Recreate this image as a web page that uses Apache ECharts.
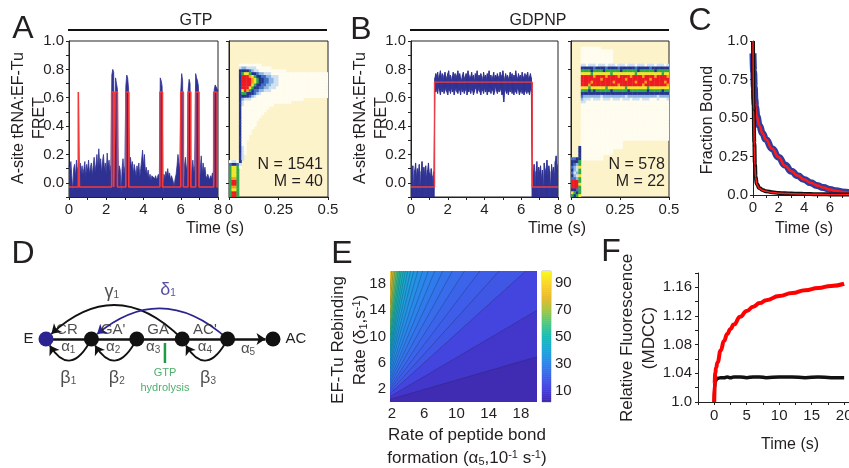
<!DOCTYPE html>
<html><head><meta charset="utf-8">
<script src="https://cdn.jsdelivr.net/npm/echarts@6/dist/echarts.min.js"></script>
<style>html,body{margin:0;padding:0;background:#fff}#c{width:849px;height:468px}</style>
</head><body><div id="c"></div>
<script>
// ================= DATA =================
// Panel A: GTP single-molecule trace (0.05 s frames), upper envelope of FRET
const aStep = 0.05;
const aUpper = [
 0.12,0.08,0.15,0.05,-0.06,0.10,0.13,0.04,0.16,0.09,
 0.11,0.03,0.14,0.07,0.12,0.06,0.10,0.15,0.04,0.13,
 0.08,0.16,0.06,0.11,0.14,0.05,0.12,0.18,0.08,0.13,
 0.20,0.10,0.24,0.12,0.17,0.07,0.15,0.20,0.09,0.14,
 0.06,0.21,0.11,0.16,0.08,0.13,0.76,0.80,0.78,-0.05,
 0.74,0.70,0.66,0.05,0.12,0.09,-0.07,0.10,0.17,0.06,
 0.12,0.68,0.76,0.74,0.66,0.08,0.18,0.11,0.15,0.06,
 0.13,0.09,0.05,0.12,0.08,0.14,0.04,0.10,0.16,0.23,
 0.12,0.20,0.07,0.11,0.05,0.09,0.03,0.06,0.02,0.05,
 0.04,0.06,0.03,0.05,0.02,0.04,0.06,0.03,0.74,0.72,
 0.68,-0.07,0.06,0.03,0.08,0.05,0.10,0.04,0.07,0.02,
 0.05,0.03,0.04,-0.02,0.03,0.06,0.12,0.20,0.19,0.08,
 0.64,0.77,0.72,-0.06,0.12,0.18,0.08,0.14,0.66,0.73,
 0.70,-0.05,0.10,0.16,0.07,0.12,0.77,0.74,0.72,0.68,
 -0.06,0.10,0.19,0.06,0.14,0.08,0.11,0.05,0.03,0.06,
 0.04,0.02,0.05,0.03,0.07,0.04,0.66,0.69,0.68,0.68,
 0.65];
const aFitTimes = [0,0.5,0.56,2.29,2.4,2.47,2.6,3.05,3.21,4.88,5.02,6.0,6.14,6.39,6.54,6.8,6.98,7.77,7.95,8.0];
const aFitLevels = [-0.03,0.64,-0.03,0.64,-0.03,0.64,-0.03,0.64,-0.03,0.64,-0.03,0.64,-0.03,0.64,-0.03,0.64,-0.03,0.64,-0.03];

// Panel B: GDPNP trace (0.05 s frames)
const bStep = 0.05;
const bLowStartUpper = [0.17,0.06,0.12,-0.05,0.09,0.14,0.04,0.10,0.07,0.13,-0.06,0.08,0.15,0.05,0.11,0.06,0.12,0.03,0.09,0.14,0.07,0.04,0.10,0.05,-0.04,0.08];
const bHighUpper = [
 0.74,0.77,0.75,0.78,0.73,0.76,0.79,0.74,0.77,0.72,
 0.76,0.78,0.75,0.73,0.77,0.79,0.74,0.76,0.72,0.75,
 0.78,0.74,0.77,0.73,0.76,0.79,0.75,0.77,0.74,0.72,
 0.76,0.78,0.73,0.75,0.77,0.74,0.79,0.76,0.73,0.75,
 0.78,0.74,0.76,0.72,0.77,0.75,0.79,0.73,0.76,0.74,
 0.77,0.75,0.72,0.78,0.74,0.76,0.73,0.77,0.75,0.79,
 0.74,0.76,0.72,0.75,0.78,0.73,0.76,0.74,0.77,0.75,
 0.73,0.78,0.74,0.76,0.79,0.75,0.72,0.77,0.74,0.76,
 0.73,0.75,0.78,0.74,0.77,0.72,0.76,0.74,0.79,0.75,
 0.73,0.77,0.74,0.76,0.72,0.78,0.75,0.73,0.77,0.74,
 0.76,0.78,0.73,0.75,0.77,0.74];
const bHighLower = [
 0.67,0.64,0.66,0.63,0.68,0.65,0.62,0.66,0.64,0.67,
 0.63,0.65,0.68,0.64,0.62,0.66,0.65,0.63,0.67,0.64,
 0.66,0.62,0.65,0.68,0.64,0.63,0.66,0.65,0.62,0.67,
 0.64,0.66,0.63,0.65,0.68,0.62,0.65,0.64,0.67,0.63,
 0.66,0.65,0.62,0.64,0.67,0.66,0.63,0.65,0.68,0.64,
 0.62,0.66,0.65,0.63,0.67,0.64,0.66,0.62,0.65,0.64,
 0.67,0.63,0.66,0.65,0.62,0.64,0.68,0.65,0.63,0.66,
 0.64,0.67,0.65,0.62,0.63,0.57,0.64,0.66,0.63,0.65,
 0.62,0.66,0.64,0.67,0.63,0.65,0.62,0.66,0.64,0.63,
 0.67,0.65,0.62,0.64,0.66,0.63,0.65,0.62,0.64,0.66,
 0.63,0.65,0.64,0.62,0.66,0.64];
const bLowEndUpper = [0.10,0.05,0.13,-0.06,0.08,0.15,0.04,0.11,0.07,0.12,0.03,0.09,-0.05,0.14,0.06,0.10,0.16,0.05,0.12,0.08,-0.04,0.13,0.07,0.11,0.04,0.15,0.19,0.09,0.13];
const bFitTimes = [0,1.28,6.6,8.0];
const bFitLevels = [-0.03,0.71,-0.03];

// Post-synchronized FRET histograms: [fretRow, startTimeCol, density levels 0-9]
const heatTBin = 0.0125, heatVBin = 0.02, heatVMin = -0.1;
const heatA = [
 [46,4,"111111111"],
 [45,4,"2332222111111"],
 [44,4,"5555432211111111111"],
 [43,4,"567765543322211111111111111111111111"],
 [42,4,"599987655443322211111111111111111111"],
 [41,4,"599998765544332211111111111111111111"],
 [40,4,"599998765544332211111111111111111111"],
 [39,4,"599997655443322211111111111111111111"],
 [38,4,"599976554433222111111111111111111111"],
 [37,4,"579865443322211111111111111111111111"],
 [36,4,"566555432111111111111111111111111111"],
 [35,4,"555543211111111111111111111111111111"],
 [34,4,"53222111111111111111111111"],
 [33,4,"521111111111111111111"],
 [32,4,"52111111111111"],
 [31,4,"511111111111"],
 [30,4,"51111111111"],
 [29,4,"5111111111"],
 [28,4,"511111111"],
 [27,4,"51111111"],
 [26,4,"5111111"],
 [25,4,"5111111"],
 [24,4,"511111"],
 [23,4,"51111"],
 [22,4,"51111"],
 [21,4,"5111"],
 [20,4,"5111"],
 [19,4,"511"],
 [18,4,"511"],
 [17,4,"521"],
 [16,4,"521"],
 [15,4,"521"],
 [14,4,"52"],
 [13,4,"52"],
 [12,0,"12215"],
 [11,0,"45542"],
 [10,0,"67761"],
 [9,0,"6776"],
 [8,0,"6776"],
 [7,0,"6776"],
 [6,0,"6886"],
 [5,0,"6996"],
 [4,0,"6996"],
 [3,0,"6886"],
 [2,0,"6776"],
 [1,0,"6996"],
 [0,0,"6996"]
];
const heatB = [
 [52,4,"11111111"],
 [51,4,"1111111111111"],
 [50,4,"1111111111111"],
 [49,4,"1111111111111"],
 [48,4,"1111111111111"],
 [47,4,"1111111111111"],
 [46,4,"221222122212221222122212221222122212"],
 [45,4,"555554555545555455555545555545555555"],
 [44,4,"666656666566666656666665666666566666"],
 [43,4,"777767777777677777777767777777777677"],
 [42,4,"999998999989999899998999989999899998"],
 [41,4,"999999998999999999899999999989999999"],
 [40,4,"999989999999989999999989998999999989"],
 [39,4,"999899999999999899999999989999999998"],
 [38,4,"777677777767777777677777777677777777"],
 [37,4,"666565666666566666656666666566666566"],
 [36,4,"555555555555555555555555555555555555"],
 [35,4,"433333332333333333233333333333323333"],
 [34,4,"322212221222122212221222122211121112"],
 [33,4,"221111111111111111111111111111111111"],
 [32,4,"111111111111111111111111111111111111"],
 [31,4,"111111111111111111111111111111111111"],
 [30,4,"111111111111111111111111111111111111"],
 [29,4,"111111111111111111111111111111111111"],
 [28,4,"111111111111111111111111111111111111"],
 [27,4,"111111111111111111111111111111111111"],
 [26,4,"111111111111111111111111111111111111"],
 [25,4,"111111111111111111111111111111111111"],
 [24,4,"111111111111111111111111111111111111"],
 [23,4,"111111111111111111111111111111111111"],
 [22,4,"111111111111111111111111111111111111"],
 [21,4,"111111111111111111111111111111111111"],
 [20,4,"111111111111111111111111111111111111"],
 [19,4,"11111111111111111"],
 [18,4,"11111111111111111"],
 [17,4,"11111111111111111"],
 [16,4,"1111111111111"],
 [15,4,"1111111111111"],
 [14,4,"111111111"],
 [13,4,"111111111"],
 [17,3,"5"],[16,3,"5"],[15,3,"5"],[14,3,"5"],
 [13,0,"4455"],
 [12,0,"5556"],
 [11,0,"5436"],
 [10,0,"4327"],
 [9,0,"5326"],
 [8,0,"4236"],
 [7,0,"5327"],
 [6,0,"4436"],
 [5,0,"9996"],
 [4,0,"9997"],
 [3,0,"9996"],
 [2,0,"5546"],
 [1,0,"7656"],
 [0,0,"6567"]
];

// Panel C: fraction bound vs time
const cTime      = [0,0.05,0.1,0.15,0.2,0.3,0.5,0.75,1,1.5,2,2.5,3,3.5,4,4.5,5,5.5,6,6.5,7,7.5];
const cBlueData  = [0.92,0.80,0.70,0.62,0.57,0.51,0.45,0.40,0.36,0.30,0.245,0.195,0.155,0.125,0.10,0.08,0.062,0.048,0.036,0.027,0.02,0.015];
const cBlueFit   = [1.0,0.82,0.70,0.62,0.56,0.51,0.45,0.40,0.36,0.30,0.245,0.19,0.155,0.125,0.10,0.08,0.062,0.048,0.035,0.027,0.02,0.015];
const cBlackData = [1.0,0.58,0.34,0.20,0.12,0.07,0.045,0.032,0.025,0.018,0.013,0.011,0.009,0.008,0.007,0.006,0.005,0.005,0.004,0.004,0.003,0.003];
const cBlackFit  = [1.0,0.55,0.32,0.19,0.115,0.068,0.043,0.031,0.024,0.017,0.012,0.010,0.008,0.007,0.006,0.005,0.005,0.004,0.004,0.003,0.003,0.003];

// Panel D: kinetic scheme (states along a line)
const dNodeX = [0,1,2,3,4,5];
const dLineY = 50;
const dNodeText = ['E','','','','','AC'];
// [source, target, curveness, colour, arrow]
const dLinks = [
 [0,1,0,'#111',false],[1,2,0,'#111',false],[2,3,0,'#111',false],[3,4,0,'#111',false],[4,5,0,'#111',true],
 [3,0,-0.5,'#111',true],
 [4,1,-0.45,'#2b2390',true],
 [1,0,0.95,'#111',true],
 [2,1,0.95,'#111',true],
 [4,3,0.95,'#111',true]
];
const dStateLabels = [[0.46,41,"CR"],[1.48,41,"GA'"],[2.47,41,"GA"],[3.5,41,"AC'"]];
const dRateLabels = [
 [0.49,58,"α{s|1}",'#222'],[1.48,58,"α{s|2}",'#222'],[2.36,58,"α{s|3}",'#222'],[3.5,58,"α{s|4}",'#222'],[4.45,60,"α{s|5}",'#222'],
 [0.49,89,"{g|β}{s|1}",'#222'],[1.56,89,"{g|β}{s|2}",'#222'],[3.57,89,"{g|β}{s|3}",'#222'],
 [1.45,3,"{g|γ}{s|1}",'#222'],[2.69,1,"{gb|δ}{sb|1}",'#2b2390']
];
const dGtpX = 2.62;

// Panel E: contour lines [alpha5 start, delta1 start, alpha5 end, delta1 end, level above line]
const eXMin = 1.75, eXMax = 20, eYMin = 0, eYMax = 20;
const eBaseLevel = 4;
const eLines = [
 [1.75,0.41,20,6.9,8],
 [1.75,0.83,20,14.0,13],
 [1.75,1.28,18.6,20,18],
 [1.75,1.56,15.3,20,20],
 [1.75,1.9,12.9,20,22],
 [1.75,2.2,11.0,20,24],
 [1.75,2.6,9.5,20,26],
 [1.75,3.0,8.3,20,28],
 [1.75,3.4,7.3,20,30],
 [1.75,3.9,6.5,20,32],
 [1.75,4.4,5.8,20,34],
 [1.75,5.0,5.2,20,36],
 [1.75,5.6,4.7,20,38],
 [1.75,6.2,4.3,20,40],
 [1.75,6.9,3.95,20,43],
 [1.75,7.5,3.65,20,46],
 [1.75,8.2,3.4,20,49],
 [1.75,9.0,3.15,20,52],
 [1.75,9.8,2.95,20,56],
 [1.75,10.7,2.75,20,60],
 [1.75,11.8,2.55,20,65],
 [1.75,13.1,2.35,20,71],
 [1.75,14.8,2.15,20,78],
 [1.75,17.0,1.95,20,86]
];
const eTicks = [2,6,10,14,18];
const eBarTicks = [10,30,50,70,90];
const eBarMin = 2, eBarMax = 99;

// Panel F: MDCC fluorescence
const fTime  = [0,0.05,0.15,0.3,0.5,1,1.5,2,2.5,3,4,5,6,7,8,10,12,14,16,18,20];
const fRed   = [1.0,1.025,1.04,1.048,1.055,1.072,1.085,1.095,1.102,1.108,1.119,1.127,1.133,1.138,1.142,1.148,1.152,1.156,1.159,1.162,1.165];
const fBlack = [1.0,1.02,1.028,1.031,1.033,1.034,1.034,1.035,1.034,1.035,1.035,1.034,1.035,1.035,1.034,1.035,1.035,1.034,1.035,1.034,1.034];

// ================= STYLE / BUILD =================
const FONT = 'Liberation Sans, Arial, Helvetica, sans-serif';
const INK = '#231f20';
const TRACE_BLUE = '#2e3192';
const heatColors = ['rgba(0,0,0,0)','#fffcf0','#cfe0f2','#8cb5e4','#3e6fc6','#23348c','#2fa84a','#f3e42c','#f7a11d','#ec1c24'];
const PARULA = [[0,[62,38,168]],[0.095,[70,62,220]],[0.206,[60,100,235]],[0.302,[42,135,235]],[0.397,[28,165,218]],[0.508,[25,189,180]],[0.603,[74,201,130]],[0.698,[157,200,67]],[0.794,[230,185,45]],[0.905,[250,212,45]],[1,[249,251,21]]];
function parula(v){
  let f=(v-eBarMin)/(eBarMax-eBarMin); f=Math.max(0,Math.min(1,f));
  for(let i=1;i<PARULA.length;i++){ if(f<=PARULA[i][0]){ const a=PARULA[i-1],b=PARULA[i]; const u=(f-a[0])/(b[0]-a[0]);
    const c=a[1].map((x,k)=>Math.round(x+(b[1][k]-x)*u)); return 'rgb('+c.join(',')+')'; } }
  return 'rgb(249,251,21)';
}
const lbl = (o)=>Object.assign({fontFamily:FONT,fontSize:15,color:INK},o);
const axLine = {show:true,onZero:false,lineStyle:{color:'#222',width:1}};

// traces
const aData = aUpper.map((v,i)=>[+(i*aStep).toFixed(2), v]);
function stepLine(times, levels){ const out=[]; for(let i=0;i<levels.length;i++){ out.push([times[i],levels[i]]); out.push([times[i+1],levels[i]]);} return out; }
const aFit = stepLine(aFitTimes, aFitLevels);
const bUpper = bLowStartUpper.concat(bHighUpper, bLowEndUpper);
const bLower = bLowStartUpper.map(()=>heatVMin).concat(bHighLower, bLowEndUpper.map(()=>heatVMin));
const bSegs = []; for(let i=0;i<bUpper.length-1;i++) bSegs.push([i*bStep, bLower[i], bUpper[i], (i+1)*bStep, bLower[i+1], bUpper[i+1]]);
const bFit = stepLine(bFitTimes, bFitLevels);
function bandItem(params, api){
  const p=[api.coord([api.value(0),api.value(1)]), api.coord([api.value(3),api.value(4)]), api.coord([api.value(3),api.value(5)]), api.coord([api.value(0),api.value(2)])];
  return {type:'polygon', shape:{points:p}, style:{fill:TRACE_BLUE, stroke:TRACE_BLUE, lineWidth:0.7}};
}
function heatCells(rows){ const out=[]; rows.forEach(([r,c0,s])=>{ for(let k=0;k<s.length;k++){ const lv=+s[k]; if(lv>0) out.push([(c0+k)*heatTBin, heatVMin+r*heatVBin, lv]); } }); return out; }
function heatItem(params, api){
  const t=api.value(0), v=api.value(1), lv=api.value(2);
  const p0=api.coord([t, v+heatVBin]), p1=api.coord([t+heatTBin, v]);
  return {type:'rect', shape:{x:p0[0], y:p0[1], width:p1[0]-p0[0]+0.4, height:p1[1]-p0[1]+0.4}, style:{fill:heatColors[lv]}};
}
function contourItem(params, api){
  const a0=api.value(0), d0=api.value(1), a1=api.value(2), d1=api.value(3), lv=api.value(4);
  const pts=[[a0,d0],[a1,d1]];
  if(a1>=eXMax-1e-9 && d1<eYMax) pts.push([eXMax,eYMax]);
  pts.push([eXMin,eYMax]);
  if(d0<=eYMin+1e-9 && a0>eXMin) pts.push([eXMin,eYMin]);
  const px=pts.map(p=>api.coord(p));
  const ch=[{type:'polygon', shape:{points:px}, style:{fill:parula(lv), stroke:parula(lv), lineWidth:0.3}}];
  if(params.dataIndex>0) ch.push({type:'line', shape:{x1:px[0][0],y1:px[0][1],x2:px[1][0],y2:px[1][1]}, style:{stroke:'rgba(25,25,60,0.45)', lineWidth:0.6}});
  return {type:'group', children:ch};
}
const eData = [[eXMin,eYMin,eXMax,eYMin,eBaseLevel]].concat(eLines);
const cbData = []; for(let v=eBarMin; v<eBarMax; v+=0.5) cbData.push([0,v]);
function cbItem(params, api){
  const v=api.value(1); const p0=api.coord([0,v+0.5]), p1=api.coord([1,v]);
  return {type:'rect', shape:{x:p0[0],y:p0[1],width:p1[0]-p0[0],height:p1[1]-p0[1]+0.5}, style:{fill:parula(v+0.25)}};
}

const grids = [
 {left:69, top:41, width:149, height:156, show:true, borderColor:'#222', borderWidth:1, backgroundColor:'#fff'},
 {left:229, top:41, width:99, height:156, show:true, borderColor:'#222', borderWidth:1, backgroundColor:'#fdf3cb'},
 {left:411, top:41, width:147, height:156, show:true, borderColor:'#222', borderWidth:1, backgroundColor:'#fff'},
 {left:571, top:41, width:98, height:156, show:true, borderColor:'#222', borderWidth:1, backgroundColor:'#fdf3cb'},
 {left:753, top:41, width:96, height:154},
 {left:46, top:289, width:227, height:100},
 {left:390, top:271, width:147, height:131},
 {left:542, top:271, width:9, height:131, show:true, borderColor:'#bbb', borderWidth:1},
 {left:698, top:273, width:151, height:129}
].map(g=>Object.assign({outerBoundsMode:'none', containLabel:false}, g));

const fretTicks = [0,0.2,0.4,0.6,0.8,1.0];
const xAxes = [
 {gridIndex:0, type:'value', min:0, max:8, interval:1, axisLine:axLine, axisTick:{length:3,lineStyle:{color:'#222'}}, axisLabel:lbl({customValues:[0,2,4,6,8], margin:5}), splitLine:{show:false}},
 {gridIndex:1, type:'value', min:0, max:0.5, interval:0.25, axisLine:axLine, axisTick:{length:3,lineStyle:{color:'#222'}}, axisLabel:lbl({margin:5, formatter:v=>String(v)}), splitLine:{show:false}},
 {gridIndex:2, type:'value', min:0, max:8, interval:1, axisLine:axLine, axisTick:{length:3,lineStyle:{color:'#222'}}, axisLabel:lbl({customValues:[0,2,4,6,8], margin:5}), splitLine:{show:false}},
 {gridIndex:3, type:'value', min:0, max:0.5, interval:0.25, axisLine:axLine, axisTick:{length:3,lineStyle:{color:'#222'}}, axisLabel:lbl({margin:5, formatter:v=>String(v)}), splitLine:{show:false}},
 {gridIndex:4, type:'value', min:0, max:7.5, interval:1, axisLine:axLine, axisTick:{length:3,lineStyle:{color:'#222'}}, axisLabel:lbl({customValues:[0,2,4,6], margin:5}), splitLine:{show:false}},
 {gridIndex:5, type:'value', min:0, max:5, show:false},
 {gridIndex:6, type:'value', min:eXMin, max:eXMax, axisLine:{show:false}, axisTick:{show:false}, axisLabel:lbl({customValues:eTicks, margin:4}), splitLine:{show:false}},
 {gridIndex:7, type:'value', min:0, max:1, show:false},
 {gridIndex:8, type:'value', min:-2.5, max:20.75, interval:2.5, axisLine:axLine, axisTick:{length:3,lineStyle:{color:'#222'}}, axisLabel:lbl({customValues:[0,5,10,15,20], margin:6}), splitLine:{show:false}}
];
const yAxes = [
 {gridIndex:0, type:'value', min:-0.1, max:1.0, interval:0.1, axisLine:axLine, axisTick:{length:3,lineStyle:{color:'#222'}}, axisLabel:lbl({customValues:fretTicks, formatter:v=>(+v).toFixed(1), margin:5}), splitLine:{show:false}},
 {gridIndex:1, type:'value', min:-0.1, max:1.0, interval:0.1, axisLine:axLine, axisTick:{length:3,customValues:fretTicks,lineStyle:{color:'#222'}}, axisLabel:{show:false}, splitLine:{show:false}},
 {gridIndex:2, type:'value', min:-0.1, max:1.0, interval:0.1, axisLine:axLine, axisTick:{length:3,lineStyle:{color:'#222'}}, axisLabel:lbl({customValues:fretTicks, formatter:v=>(+v).toFixed(1), margin:5}), splitLine:{show:false}},
 {gridIndex:3, type:'value', min:-0.1, max:1.0, interval:0.1, axisLine:axLine, axisTick:{length:3,customValues:fretTicks,lineStyle:{color:'#222'}}, axisLabel:{show:false}, splitLine:{show:false}},
 {gridIndex:4, type:'value', min:0, max:1, interval:0.25, axisLine:axLine, axisTick:{length:3,lineStyle:{color:'#222'}}, axisLabel:lbl({margin:5, formatter:v=>v===0?'0.0':(v===1?'1.0':(+v).toFixed(2))}), splitLine:{show:false}},
 {gridIndex:5, type:'value', min:0, max:100, inverse:true, show:false},
 {gridIndex:6, type:'value', min:eYMin, max:eYMax, axisLine:{show:false}, axisTick:{show:false}, axisLabel:lbl({customValues:eTicks, margin:4}), splitLine:{show:false}},
 {gridIndex:7, type:'value', min:eBarMin, max:eBarMax, position:'right', axisLine:{show:false}, axisTick:{show:false}, axisLabel:lbl({customValues:eBarTicks, margin:4}), splitLine:{show:false}},
 {gridIndex:8, type:'value', min:1.0, max:1.18, interval:0.02, axisLine:axLine, axisTick:{length:3,lineStyle:{color:'#222'}}, axisLabel:lbl({customValues:[1.0,1.04,1.08,1.12,1.16], formatter:v=>(+v)===1?'1.0':(+v).toFixed(2), margin:6}), splitLine:{show:false}}
];

const noEmph = {disabled:true};
const series = [
 {type:'line', xAxisIndex:0, yAxisIndex:0, data:aData, symbol:'none', lineStyle:{color:TRACE_BLUE,width:0.8}, areaStyle:{color:TRACE_BLUE,opacity:1,origin:'start'}, emphasis:noEmph, z:2},
 {type:'line', xAxisIndex:0, yAxisIndex:0, data:aFit, symbol:'none', lineStyle:{color:'#f23a3a',width:1.6}, emphasis:noEmph, z:3},
 {type:'custom', xAxisIndex:1, yAxisIndex:1, data:heatCells(heatA), renderItem:heatItem, encode:{x:0,y:1}, clip:true, z:2},
 {type:'custom', xAxisIndex:2, yAxisIndex:2, data:bSegs, renderItem:bandItem, encode:{x:[0,3],y:[1,2,4,5]}, clip:true, z:2},
 {type:'line', xAxisIndex:2, yAxisIndex:2, data:bFit, symbol:'none', lineStyle:{color:'#e8404a',width:1.4}, emphasis:noEmph, z:3},
 {type:'custom', xAxisIndex:3, yAxisIndex:3, data:heatCells(heatB), renderItem:heatItem, encode:{x:0,y:1}, clip:true, z:2},
 {type:'line', xAxisIndex:4, yAxisIndex:4, data:cTime.map((t,i)=>[t,cBlueData[i]]), symbol:'none', smooth:true, smoothMonotone:'x', lineStyle:{color:'#2e3d9c',width:7}, emphasis:noEmph, z:2},
 {type:'line', xAxisIndex:4, yAxisIndex:4, data:cTime.map((t,i)=>[t,cBlueFit[i]]), symbol:'none', smooth:true, smoothMonotone:'x', lineStyle:{color:'#ff1a1a',width:2.5}, emphasis:noEmph, z:3},
 {type:'line', xAxisIndex:4, yAxisIndex:4, data:cTime.map((t,i)=>[t,cBlackData[i]]), symbol:'none', smooth:true, smoothMonotone:'x', lineStyle:{color:'#111',width:4}, emphasis:noEmph, z:4},
 {type:'line', xAxisIndex:4, yAxisIndex:4, data:cTime.map((t,i)=>[t,cBlackFit[i]]), symbol:'none', smooth:true, smoothMonotone:'x', lineStyle:{color:'#ff1a1a',width:1.5}, emphasis:noEmph, z:5},
 {type:'graph', coordinateSystem:'cartesian2d', xAxisIndex:5, yAxisIndex:5, symbolSize:15, edgeSymbol:['none','arrow'], edgeSymbolSize:[0,9],
  data:dNodeX.map((x,i)=>({name:'n'+i, value:[x,dLineY], itemStyle:{color:i===0?'#2b2390':'#111'},
    label:{show:dNodeText[i]!=='', position:i===0?'left':'right', distance:5, formatter:dNodeText[i], fontFamily:FONT, fontSize:15, color:INK}})),
  links:dLinks.map(l=>({source:'n'+l[0], target:'n'+l[1], symbol:['none', l[4]?'arrow':'none'], lineStyle:{curveness:l[2], color:l[3], width:l[2]===0?2.5:1.8, opacity:1}})),
  lineStyle:{opacity:1}, emphasis:noEmph, roam:false, z:4},
 {type:'scatter', xAxisIndex:5, yAxisIndex:5, symbolSize:1, itemStyle:{color:'rgba(0,0,0,0)'}, clip:false,
  data:dStateLabels.map(d=>({value:[d[0],d[1]], label:{formatter:d[2]}})).concat(dRateLabels.map(d=>({value:[d[0],d[1]], label:{formatter:d[2], color:d[3]}}))),
  label:{show:true, position:'inside', fontFamily:FONT, fontSize:15, color:INK,
    rich:{s:{fontFamily:FONT,fontSize:10,color:INK,padding:[7,0,0,0]}, g:{fontFamily:FONT,fontSize:18,color:INK}, gb:{fontFamily:FONT,fontSize:18,color:'#2b2390'}, sb:{fontFamily:FONT,fontSize:10,color:'#2b2390',padding:[7,0,0,0]}}},
  emphasis:noEmph, z:6},
 {type:'line', xAxisIndex:5, yAxisIndex:5, data:[[dGtpX,54],[dGtpX,74]], symbol:'none', lineStyle:{color:'#1e9b45',width:2.5}, emphasis:noEmph, z:4},
 {type:'scatter', xAxisIndex:5, yAxisIndex:5, symbolSize:1, itemStyle:{color:'rgba(0,0,0,0)'}, clip:false,
  data:[{value:[dGtpX,84],label:{formatter:'GTP'}},{value:[dGtpX,99],label:{formatter:'hydrolysis'}}],
  label:{show:true, position:'inside', fontFamily:FONT, fontSize:11, color:'#1e9b45'}, emphasis:noEmph, z:6},
 {type:'custom', xAxisIndex:6, yAxisIndex:6, data:eData, renderItem:contourItem, encode:{x:[0,2], y:[1,3]}, clip:true, z:2},
 {type:'custom', xAxisIndex:7, yAxisIndex:7, data:cbData, renderItem:cbItem, encode:{x:0, y:1}, clip:true, z:2},
 {type:'line', xAxisIndex:8, yAxisIndex:8, data:fTime.map((t,i)=>[t,fBlack[i]]), symbol:'none', smooth:true, smoothMonotone:'x', lineStyle:{color:'#111',width:3.5}, emphasis:noEmph, z:2},
 {type:'line', xAxisIndex:8, yAxisIndex:8, data:fTime.map((t,i)=>[t,fRed[i]]), symbol:'none', smooth:true, smoothMonotone:'x', lineStyle:{color:'#ff0000',width:4}, emphasis:noEmph, z:3}
];

const T = (x,y,text,o)=>({type:'text', x, y, z:100, style:Object.assign({text, fontFamily:FONT, fontSize:16, fill:INK, textAlign:'center', textVerticalAlign:'middle'}, o||{})});
const TR = (x,y,text,o)=>Object.assign(T(x,y,text,o),{rotation:Math.PI/2});
const subRich = {sub:{fontFamily:FONT,fontSize:11,fill:INK,padding:[7,0,0,0]}, sup:{fontFamily:FONT,fontSize:11,fill:INK,padding:[0,0,7,0]}};
const graphic = [
 T(23,29,'A',{fontSize:32}), T(361,30,'B',{fontSize:32}), T(700,21,'C',{fontSize:32}),
 T(23,254,'D',{fontSize:32}), T(342,254,'E',{fontSize:32}), T(611,252,'F',{fontSize:32}),
 T(196,21,'GTP'), T(538,21,'GDPNP'),
 {type:'line', shape:{x1:68,y1:30,x2:327,y2:30}, style:{stroke:'#111',lineWidth:2}, z:100},
 {type:'line', shape:{x1:410,y1:30,x2:669,y2:30}, style:{stroke:'#111',lineWidth:2}, z:100},
 TR(29,118,'A-site tRNA:EF-Tu\nFRET',{lineHeight:21}),
 TR(371,118,'A-site tRNA:EF-Tu\nFRET',{lineHeight:21}),
 TR(708,120,'Fraction Bound'),
 T(215,229,'Time (s)'), T(557,229,'Time (s)'), T(804,229,'Time (s)'), T(790,445,'Time (s)'),
 T(323,165,'N = 1541',{textAlign:'right'}), T(323,182,'M = 40',{textAlign:'right'}),
 T(665,165,'N = 578',{textAlign:'right'}), T(665,182,'M = 22',{textAlign:'right'}),
 TR(349,340,'EF-Tu Rebinding\nRate (δ{sub|1},s{sup|-1})',{fontSize:17,lineHeight:22,rich:subRich}),
 T(467,447,'Rate of peptide bond\nformation (α{sub|5},10{sup|-1} s{sup|-1})',{fontSize:17,lineHeight:23,rich:subRich}),
 TR(638,338,'Relative Fluorescence\n(MDCC)',{fontSize:17,lineHeight:22})
];

const chart = echarts.init(document.getElementById('c'), null, {renderer:'canvas'});
chart.setOption({animation:false, backgroundColor:'#fff', grid:grids, xAxis:xAxes, yAxis:yAxes, series, graphic});
</script>
</body></html>
